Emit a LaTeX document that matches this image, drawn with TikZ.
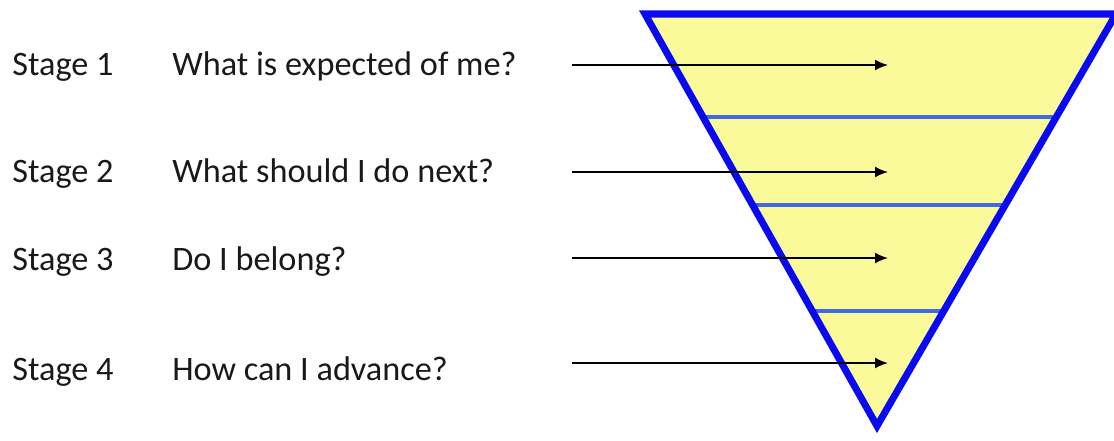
\documentclass[tikz,border=0pt]{standalone}
\usepackage{fontspec}
\setmainfont{Carlito}
\usepackage{xcolor}
\usetikzlibrary{arrows.meta,positioning,calc}

\definecolor{funnelfill}{RGB}{250,250,155}
\definecolor{funnelrim}{RGB}{10,10,240}
\definecolor{bandline}{RGB}{65,105,225}

\begin{document}
\begin{tikzpicture}[
  x=0.02cm, y=-0.02cm,
  stage/.style={anchor=base west, inner sep=0pt,
                font=\fontsize{19.5}{23}\selectfont, text=black!90},
  ask/.style={stage},
  arr/.style={-{Latex[length=0.26cm, width=0.22cm]}, line width=1.1pt},
  band/.style={draw=bandline, line width=2.3pt},
  rim/.style={draw=funnelrim, line width=4pt, line join=miter}
]
\useasboundingbox (0,0) rectangle (1114,440);
\clip (0,0) rectangle (1114,440);

% funnel
\coordinate (tl) at (645,14);
\coordinate (tr) at (1116,14);
\coordinate (ap) at (877,426);
\fill[funnelfill] (tl) -- (tr) -- (ap) -- cycle;
\draw[band] ($(tl)!0.25!(ap)$)   -- ($(tr)!0.25!(ap)$);
\draw[band] ($(tl)!0.4636!(ap)$) -- ($(tr)!0.4636!(ap)$);
\draw[band] ($(tl)!0.7209!(ap)$) -- ($(tr)!0.7209!(ap)$);
\draw[rim] (tl) -- (tr) -- (ap) -- cycle;

% stages
\node[stage] (st1) at (12,75)  {Stage 1};
\node[stage] (st2) at (12,182) {Stage 2};
\node[stage] (st3) at (12,270) {Stage 3};
\node[stage] (st4) at (12,380) {Stage 4};

\node[ask] (q1) at (172,75)  {What is expected of me?};
\node[ask] (q2) at (172,182) {What should I do next?};
\node[ask] (q3) at (172,270) {Do I belong?};
\node[ask] (q4) at (172,380) {How can I advance?};

% arrows into the funnel
\coordinate (s1) at (572,65);  \coordinate (e1) at (888,65);
\coordinate (s2) at (572,172); \coordinate (e2) at (888,172);
\coordinate (s3) at (572,258); \coordinate (e3) at (888,258);
\coordinate (s4) at (572,363); \coordinate (e4) at (888,363);
\draw[arr] (s1) -- (e1);
\draw[arr] (s2) -- (e2);
\draw[arr] (s3) -- (e3);
\draw[arr] (s4) -- (e4);

\end{tikzpicture}
\end{document}
